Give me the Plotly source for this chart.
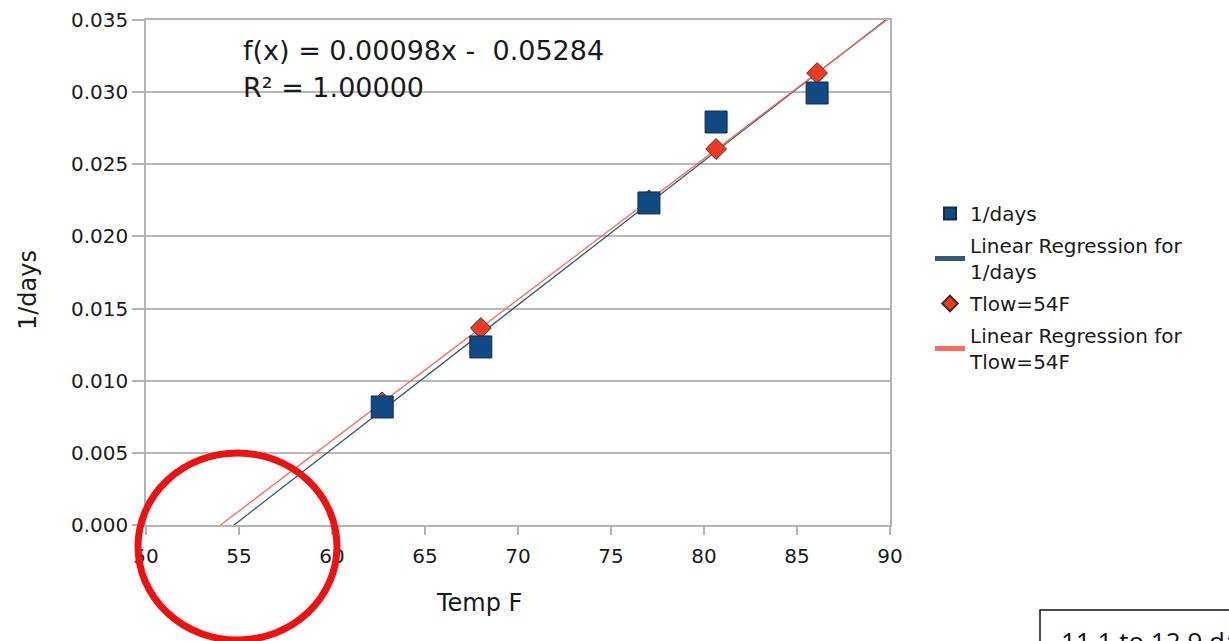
import numpy as np
import plotly.graph_objects as go

# ---- data ----
temp_f = [62.7, 68.0, 77.04, 80.65, 86.08]
inv_days = [0.00818, 0.01234, 0.02232, 0.02793, 0.02994]
tlow_54f = [0.0085, 0.01365, 0.0225, 0.02606, 0.03132]
x_ticks = [50, 55, 60, 65, 70, 75, 80, 85, 90]
y_ticks = [0.000, 0.005, 0.010, 0.015, 0.020, 0.025, 0.030, 0.035]

equation_text = "f(x) = 0.00098x -  0.05284"
r2_text = "R² = 1.00000"
note_text = "11.1 to 12.9 days"

FONT = "DejaVu Sans, Liberation Sans, Arial, sans-serif"
TXT = "#1a1a1a"
W, H = 1229, 641
L, R, T, B = 146, 890, 20, 525


def px_x(p):
    return (p - L) / (R - L)


def px_y(p):
    return (B - p) / (B - T)


# regression lines from the data
line_x = np.array([50.0, 90.0])
c1 = np.polyfit(temp_f, inv_days, 1)
c2 = np.polyfit(temp_f, tlow_54f, 1)

fig = go.Figure()

fig.add_trace(go.Scatter(
    x=line_x, y=np.polyval(c1, line_x), mode="lines",
    name="Linear Regression for<br>1/days", legendrank=2, legendgroup="g2",
    line=dict(color="#2e5a78", width=1.3),
))
fig.add_trace(go.Scatter(
    x=line_x, y=np.polyval(c2, line_x), mode="lines",
    name="Linear Regression for<br>Tlow=54F", legendrank=4, legendgroup="g4",
    line=dict(color="#ff6a5a", width=1.3),
))
fig.add_trace(go.Scatter(
    x=temp_f, y=tlow_54f, mode="markers", name="Tlow=54F", legendrank=3,
    legendgroup="g3",
    marker=dict(symbol="diamond", size=16, color="#ee3a22",
                line=dict(color="#4a2a1a", width=1)),
))
fig.add_trace(go.Scatter(
    x=temp_f, y=inv_days, mode="markers", name="1/days", legendrank=1,
    legendgroup="g1",
    marker=dict(symbol="square", size=22, color="#0f4a85",
                line=dict(color="#1b2b40", width=1)),
))

annotations = [
    dict(text=equation_text, x=px_x(241), y=px_y(50), xref="paper", yref="paper",
         xanchor="left", yanchor="middle", showarrow=False,
         font=dict(family=FONT, size=27, color=TXT)),
    dict(text=r2_text, x=px_x(241), y=px_y(87), xref="paper", yref="paper",
         xanchor="left", yanchor="middle", showarrow=False,
         font=dict(family=FONT, size=27, color=TXT)),
    dict(text="Temp F", x=px_x(479), y=px_y(603), xref="paper", yref="paper",
         xanchor="center", yanchor="middle", showarrow=False,
         font=dict(family=FONT, size=24, color=TXT)),
    dict(text="1/days", x=px_x(28), y=px_y(290), xref="paper", yref="paper",
         xanchor="center", yanchor="middle", showarrow=False, textangle=-90,
         font=dict(family=FONT, size=24, color=TXT)),
    dict(text=note_text, x=px_x(1059), y=px_y(621), xref="paper", yref="paper",
         xanchor="left", yanchor="top", showarrow=False,
         font=dict(family="Open Sans, Liberation Sans, sans-serif", size=26, color="#111111")),
]

shapes = [
    dict(type="circle", xref="paper", yref="paper",
         x0=px_x(138), x1=px_x(337), y0=px_y(640), y1=px_y(453),
         line=dict(color="#ee1111", width=7)),
    dict(type="rect", xref="paper", yref="paper",
         x0=px_x(1040), x1=px_x(1260), y0=px_y(680), y1=px_y(610),
         line=dict(color="#111111", width=1.5), fillcolor="rgba(0,0,0,0)"),
]

fig.update_layout(
    width=W, height=H,
    margin=dict(l=L, r=W - R, t=T, b=H - B, pad=0, autoexpand=False),
    paper_bgcolor="white", plot_bgcolor="white",
    showlegend=True,
    legend=dict(x=px_x(930), y=px_y(194), xanchor="left", yanchor="top",
                font=dict(family=FONT, size=20, color=TXT),
                bgcolor="rgba(0,0,0,0)", itemwidth=30, tracegroupgap=3,
                itemsizing="constant", traceorder="grouped"),
    annotations=annotations,
    shapes=shapes,
    font=dict(family=FONT, color=TXT),
)

fig.update_xaxes(
    range=[50, 90], tickvals=x_ticks, ticktext=[str(v) for v in x_ticks],
    showgrid=False, zeroline=False, automargin=False,
    showline=True, linecolor="#b3b3b3", linewidth=1.5, mirror=True,
    ticks="outside", ticklen=8, tickcolor="#b3b3b3", tickwidth=1.5,
    ticklabelstandoff=4,
    tickfont=dict(family=FONT, size=20, color=TXT),
)
fig.update_yaxes(
    range=[0, 0.035], tickvals=y_ticks, ticktext=[f"{v:.3f}" for v in y_ticks],
    showgrid=True, gridcolor="#b8b8b8", gridwidth=1.5, zeroline=False,
    automargin=False,
    showline=True, linecolor="#b3b3b3", linewidth=1.5, mirror=True,
    ticks="outside", ticklen=12, tickcolor="#b3b3b3", tickwidth=1.5,
    tickfont=dict(family=FONT, size=20, color=TXT),
)

fig.write_html("out.html")
